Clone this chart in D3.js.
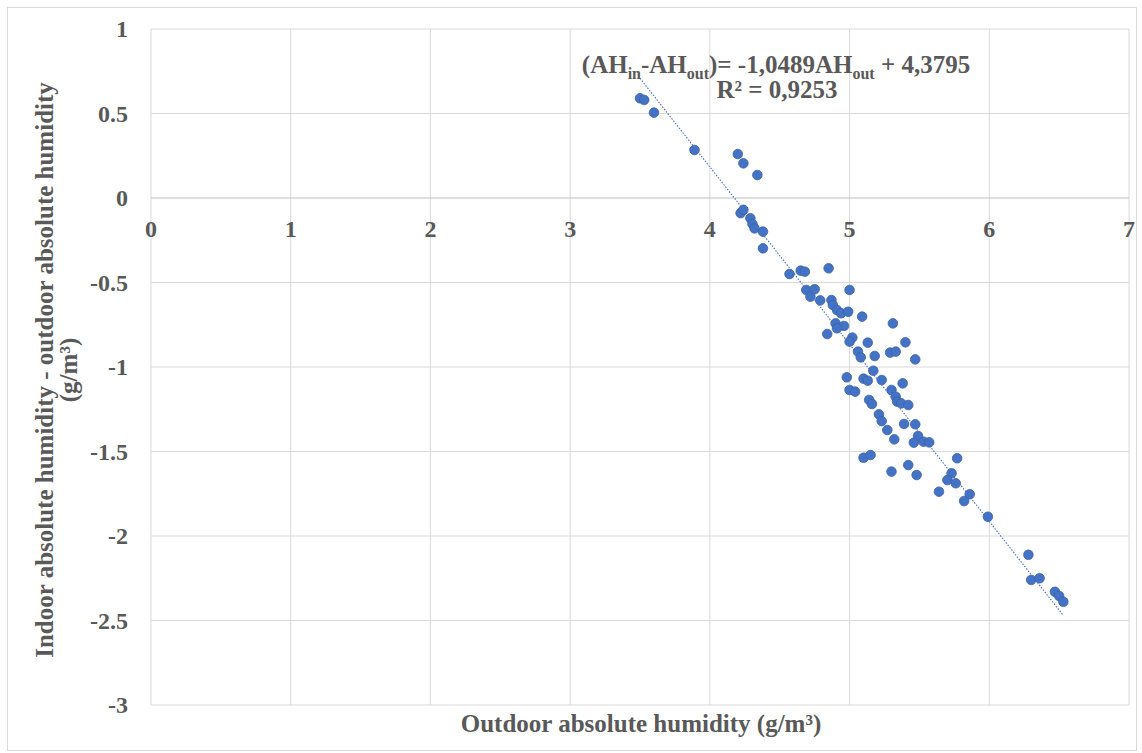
<!DOCTYPE html>
<html>
<head>
<meta charset="utf-8">
<script src="https://cdn.jsdelivr.net/npm/d3@7"></script>
<style>
  body { margin: 0; background: #fff; }
  text { font-family: "Liberation Serif", "Times New Roman", serif; font-weight: bold; fill: #595959; }
</style>
</head>
<body>
<div id="chart"></div>
<script>
// outdoor absolute humidity (g/m3)
const ahOut = [
  3.50, 3.53, 3.60, 3.89, 4.20, 4.24, 4.34, 4.22, 4.24, 4.29,
  4.305, 4.32, 4.38, 4.38, 4.57, 4.65, 4.68, 4.85, 4.69, 4.72,
  4.75, 4.79, 5.00, 4.87, 4.88, 4.91, 4.94, 4.99, 5.09, 5.31,
  4.90, 4.96, 4.91, 4.84, 5.02, 5.00, 5.13, 5.40, 5.29, 5.33,
  5.47, 5.06, 5.08, 5.18, 5.17, 4.98, 5.10, 5.13, 5.23, 5.38,
  5.00, 5.04, 5.30, 5.33, 5.34, 5.37, 5.42, 5.14, 5.16, 5.21,
  5.23, 5.27, 5.39, 5.47, 5.32, 5.49, 5.46, 5.53, 5.57, 5.10,
  5.15, 5.77, 5.42, 5.30, 5.48, 5.73, 5.70, 5.76, 5.64, 5.86,
  5.82, 5.99, 6.28, 6.30, 6.36, 6.47, 6.50, 6.53
];
// indoor - outdoor absolute humidity (g/m3)
const ahDiff = [
  0.59, 0.58, 0.505, 0.284, 0.26, 0.205, 0.136, -0.09, -0.07, -0.12,
  -0.154, -0.18, -0.199, -0.298, -0.45, -0.43, -0.436, -0.416, -0.544, -0.584,
  -0.54, -0.606, -0.544, -0.604, -0.633, -0.663, -0.682, -0.673, -0.702, -0.742,
  -0.742, -0.757, -0.771, -0.805, -0.826, -0.85, -0.856, -0.854, -0.915, -0.909,
  -0.955, -0.909, -0.943, -0.935, -1.022, -1.061, -1.069, -1.081, -1.077, -1.097,
  -1.136, -1.146, -1.136, -1.176, -1.205, -1.215, -1.225, -1.195, -1.219, -1.28,
  -1.32, -1.373, -1.337, -1.339, -1.428, -1.408, -1.448, -1.442, -1.446, -1.537,
  -1.521, -1.54, -1.58, -1.619, -1.639, -1.629, -1.669, -1.688, -1.738, -1.753,
  -1.793, -1.886, -2.111, -2.26, -2.25, -2.33, -2.355, -2.389
];
const xTicks = [0, 1, 2, 3, 4, 5, 6, 7];
const yTicks = [1, 0.5, 0, -0.5, -1, -1.5, -2, -2.5, -3];
const slope = -1.0489;
const intercept = 4.3795;

const width = 1142, height = 753;
const margin = { left: 151, right: 13, top: 29, bottom: 48 };

const svg = d3.select("#chart").append("svg")
    .attr("width", width)
    .attr("height", height);

svg.append("rect")
    .attr("x", 7.5).attr("y", 7.5)
    .attr("width", width - 13).attr("height", height - 10)
    .attr("fill", "#fff")
    .attr("stroke", "#d9d9d9");

const x = d3.scaleLinear().domain([0, 7]).range([margin.left, width - margin.right]);
const y = d3.scaleLinear().domain([-3, 1]).range([height - margin.bottom, margin.top]);

// grid
svg.append("g").selectAll("line")
    .data(xTicks)
    .enter().append("line")
    .attr("x1", d => x(d)).attr("x2", d => x(d))
    .attr("y1", y(1)).attr("y2", y(-3))
    .attr("stroke", "#d9d9d9");

svg.append("g").selectAll("line")
    .data(yTicks)
    .enter().append("line")
    .attr("x1", x(0)).attr("x2", x(7))
    .attr("y1", d => y(d)).attr("y2", d => y(d))
    .attr("stroke", d => d === 0 ? "#bfbfbf" : "#d9d9d9");

// tick labels
svg.append("g").selectAll("text")
    .data(xTicks)
    .enter().append("text")
    .attr("x", d => x(d))
    .attr("y", y(0) + 39)
    .attr("text-anchor", "middle")
    .style("font-size", "24px")
    .text(d => d);

svg.append("g").selectAll("text")
    .data(yTicks)
    .enter().append("text")
    .attr("x", 128)
    .attr("y", d => y(d))
    .attr("dy", "0.35em")
    .attr("text-anchor", "end")
    .style("font-size", "24px")
    .text(d => String(d));

// trendline
const xr = d3.extent(ahOut);
svg.append("line")
    .attr("x1", x(xr[0])).attr("y1", y(slope * xr[0] + intercept))
    .attr("x2", x(xr[1])).attr("y2", y(slope * xr[1] + intercept))
    .attr("stroke", "#4472C4")
    .attr("stroke-width", 1.1)
    .attr("stroke-dasharray", "1.5,1.5");

// points
svg.append("g").selectAll("circle")
    .data(d3.zip(ahOut, ahDiff))
    .enter().append("circle")
    .attr("cx", d => x(d[0]))
    .attr("cy", d => y(d[1]))
    .attr("r", 4.8)
    .attr("fill", "#4472C4")
    .attr("stroke", "#3a62ab")
    .attr("stroke-width", 0.8);

// equation
const eq = svg.append("text")
    .attr("x", 776).attr("y", 73)
    .attr("text-anchor", "middle")
    .style("font-size", "25px");
eq.append("tspan").text("(AH");
eq.append("tspan").attr("dy", 6).style("font-size", "16px").text("in");
eq.append("tspan").attr("dy", -6).text("-AH");
eq.append("tspan").attr("dy", 6).style("font-size", "16px").text("out");
eq.append("tspan").attr("dy", -6).text(")= -1,0489AH");
eq.append("tspan").attr("dy", 6).style("font-size", "16px").text("out");
eq.append("tspan").attr("dy", -6).text(" + 4,3795");

svg.append("text")
    .attr("x", 777).attr("y", 98)
    .attr("text-anchor", "middle")
    .style("font-size", "25px")
    .text("R² = 0,9253");

// axis titles
svg.append("text")
    .attr("x", 641).attr("y", 732)
    .attr("text-anchor", "middle")
    .style("font-size", "25px")
    .text("Outdoor absolute humidity (g/m³)");

const yt = svg.append("text")
    .attr("transform", "translate(53,370) rotate(-90)")
    .attr("text-anchor", "middle")
    .style("font-size", "25px");
yt.append("tspan").attr("x", 0).attr("y", 0).text("Indoor absolute humidity - outdoor absolute humidity");
yt.append("tspan").attr("x", 0).attr("y", 24).text("(g/m³)");
</script>
</body>
</html>
